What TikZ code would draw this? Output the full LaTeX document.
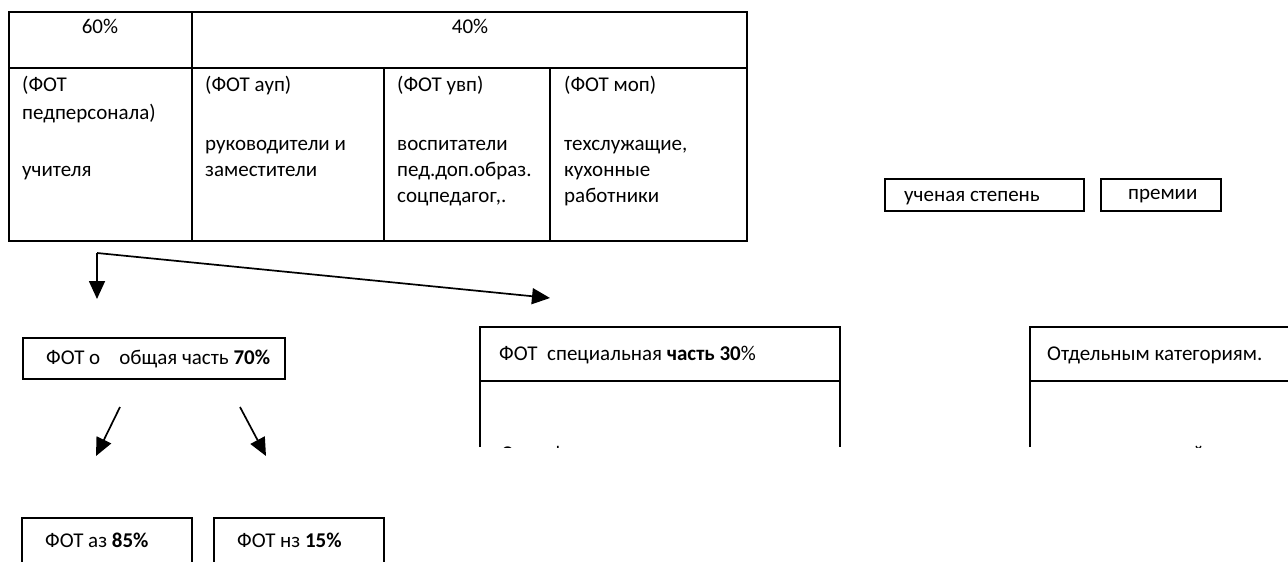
\documentclass[tikz,border=0pt]{standalone}
\usepackage{fontspec}
\setmainfont{Carlito}
\usetikzlibrary{arrows.meta}
\begin{document}
\begin{tikzpicture}[x=1pt,y=-1pt,
  frame/.style={draw,line width=1.5pt},
  txt/.style={anchor=base west,inner sep=0pt,font=\fontsize{21}{25}\selectfont},
  ctxt/.style={anchor=base,inner sep=0pt,font=\fontsize{21}{25}\selectfont},
  arr/.style={line width=1.7pt,-{Triangle[length=18pt,width=16pt]}}]
\useasboundingbox[fill=white] (0,0) rectangle (1288,562);
% table
\draw[frame] (9,12) rectangle (747,241);
\draw[frame] (9,68) -- (747,68);
\draw[frame] (192,12) -- (192,241);
\draw[frame] (384,68) -- (384,241);
\draw[frame] (550,68) -- (550,241);
\node[ctxt] (p60) at (100,33) {60\%};
\node[ctxt] (p40) at (470,33) {40\%};
\node[txt] (a1) at (22,91) {(ФОТ};
\node[txt] (a2) at (22,119) {педперсонала)};
\node[txt] (a3) at (22,176) {учителя};
\node[txt] (b1) at (205,91) {(ФОТ ауп)};
\node[txt] (b2) at (205,150) {руководители и};
\node[txt] (b3) at (205,176) {заместители};
\node[txt] (c1) at (397,91) {(ФОТ увп)};
\node[txt] (c2) at (397,150) {воспитатели};
\node[txt] (c3) at (397,176) {пед.доп.образ.};
\node[txt] (c4) at (397,202) {соцпедагог,.};
\node[txt] (d1) at (564,91) {(ФОТ моп)};
\node[txt] (d2) at (564,150) {техслужащие,};
\node[txt] (d3) at (564,176) {кухонные};
\node[txt] (d4) at (564,202) {работники};
% small boxes right
\node[frame,minimum width=199pt,minimum height=32pt,anchor=north west,inner sep=0pt] (deg) at (884,178) {};
\node[txt] (degt) at (904,201) {ученая степень};
\node[frame,minimum width=120pt,minimum height=32pt,anchor=north west,inner sep=0pt] (prem) at (1100,178) {};
\node[txt] (premt) at (1128,199) {премии};
% arrows from table
\coordinate (corner) at (97,253);
\coordinate (tipL) at (97,299);
\coordinate (tipR) at (550,298);
\draw[arr] (corner) -- (tipL);
\draw[arr] (corner) -- (tipR);
% general part
\node[frame,minimum width=262pt,minimum height=41pt,anchor=north west,inner sep=0pt] (gen) at (22,337) {};
\node[txt] (gent) at (46,364) {ФОТ о\hspace{19pt}общая часть \textbf{70\%}};
\coordinate (s1) at (120,407);
\coordinate (e1) at (96,456);
\coordinate (s2) at (240,407);
\coordinate (e2) at (266,456);
\draw[arr] (s1) -- (e1);
\draw[arr] (s2) -- (e2);
% bottom boxes
\draw[frame] (22,570) |- (192,518) -- (192,570);
\draw[frame] (214,570) |- (384,518) -- (384,570);
\node[txt] (az) at (45,547) {ФОТ аз \textbf{85\%}};
\node[txt] (nz) at (237,547) {ФОТ нз \textbf{15\%}};
% special part
\draw[frame] (480,447) |- (840,327) -- (840,447);
\draw[frame] (480,381) -- (840,381);
\node[txt] (spt) at (499,360) {ФОТ\hspace{5pt} специальная \textbf{часть 30}\%};
\begin{scope}
\clip (480,381) rectangle (840,447);
\node[txt] (spb) at (501,460) {Стим.фонд оплаты труда};
\end{scope}
% separate categories
\draw[frame] (1030,447) |- (1295,327);
\draw[frame] (1030,381) -- (1295,381);
\node[txt] (cat) at (1047,360) {Отдельным категориям.};
\begin{scope}
\clip (1030,381) rectangle (1288,447);
\node[txt] (catb) at (1036,460) {компенсационный};
\end{scope}
\end{tikzpicture}
\end{document}
